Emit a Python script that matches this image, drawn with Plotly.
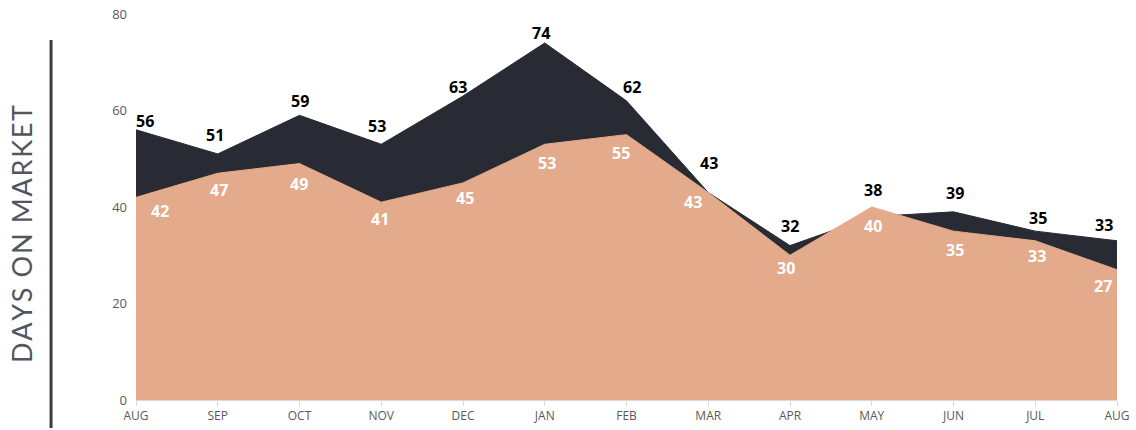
import plotly.graph_objects as go

months = ["AUG", "SEP", "OCT", "NOV", "DEC", "JAN", "FEB", "MAR", "APR", "MAY", "JUN", "JUL", "AUG"]
dark_values = [56, 51, 59, 53, 63, 74, 62, 43, 32, 38, 39, 35, 33]
peach_values = [42, 47, 49, 41, 45, 53, 55, 43, 30, 40, 35, 33, 27]
y_ticks = [0, 20, 40, 60, 80]

# label placement offsets (pixels) - style only
dark_dy = [9, 19, 14, 18, 9, 10, 14, 30, 20, 27, 19, 13, 16]
dark_dx = [9, -3, 0, -4, -5, -4, 5, 1, 0, 1, 1, 3, -13]
peach_dy = [14, 17, 20, 17, 15, 19, 18, 9, 13, 19, 19, 15, 16]
peach_dx = [24, 1, -1, -1, 2, 2, -6, -15, -4, 1, 1, 2, -14]

DARK = "#292b34"
PEACH = "#e3aa8b"

x = list(range(len(months)))

fig = go.Figure()
fig.add_trace(go.Scatter(
    x=x, y=dark_values, mode="lines", fill="tozeroy",
    line=dict(color=DARK, width=1), fillcolor=DARK,
    hoverinfo="skip", showlegend=False,
))
fig.add_trace(go.Scatter(
    x=x, y=peach_values, mode="lines", fill="tozeroy",
    line=dict(color=PEACH, width=1), fillcolor=PEACH,
    hoverinfo="skip", showlegend=False,
))

annotations = []
for i, v in enumerate(dark_values):
    annotations.append(dict(
        x=i, y=v, xref="x", yref="y", text=str(v), showarrow=False,
        xanchor="center", yanchor="middle", xshift=dark_dx[i], yshift=dark_dy[i],
        font=dict(family="Open Sans", size=16, color="#000000", weight="bold"),
    ))
for i, v in enumerate(peach_values):
    annotations.append(dict(
        x=i, y=v, xref="x", yref="y", text=str(v), showarrow=False,
        xanchor="center", yanchor="middle", xshift=peach_dx[i], yshift=-peach_dy[i],
        font=dict(family="Open Sans", size=16, color="#ffffff", weight="bold"),
    ))
annotations.append(dict(
    text="\u200a".join("DAYS ON MARKET"),
    xref="paper", yref="paper", x=-0.1172, y=0.43,
    textangle=-90, showarrow=False, xanchor="center", yanchor="middle",
    font=dict(family="Lato", size=27, color="#52565e"),
))

fig.update_layout(
    width=1136, height=430,
    margin=dict(l=136, r=19, t=14, b=30, autoexpand=False),
    paper_bgcolor="white", plot_bgcolor="white",
    xaxis=dict(
        range=[0, len(months) - 1], tickmode="array", tickvals=x, ticktext=months,
        showgrid=False, zeroline=False, showline=True, linecolor="#d9d9d9", linewidth=1,
        ticks="outside", ticklen=5, tickcolor="#d9d9d9", automargin=False,
        tickfont=dict(family="Open Sans", size=12, color="#595959"),
    ),
    yaxis=dict(
        range=[0, 80], tickmode="array", tickvals=y_ticks,
        showgrid=False, zeroline=False, showline=False, automargin=False,
        tickfont=dict(family="Open Sans", size=13, color="#595959"),
        ticklabelstandoff=8,
    ),
    annotations=annotations,
    shapes=[dict(
        type="line", xref="paper", yref="paper",
        x0=-0.0866, x1=-0.0866, y0=0.9326, y1=-0.0725,
        line=dict(color="#3c3c46", width=3),
    )],
)

fig.write_html(
    "out.html",
    config={"displayModeBar": False},
    post_script="document.body.style.margin='0px';document.body.style.overflow='hidden';",
)
